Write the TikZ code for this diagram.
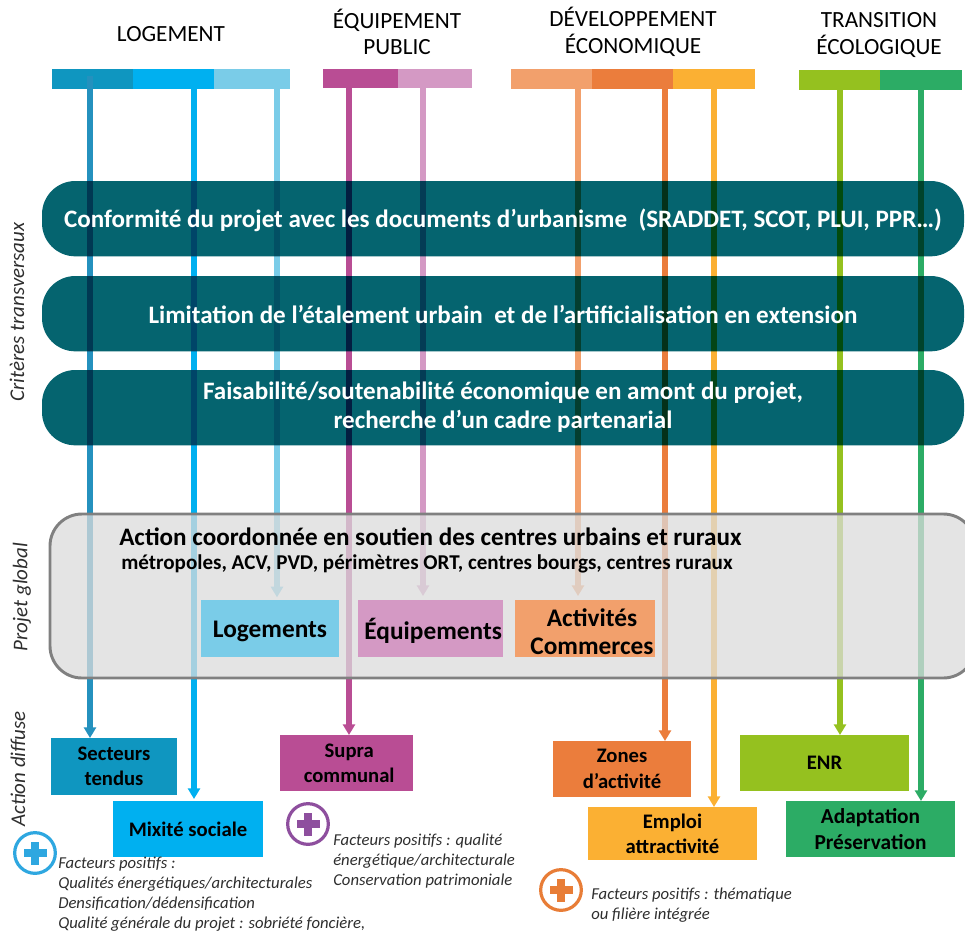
\documentclass[tikz,border=0pt]{standalone}
\usepackage{fontspec}
\setmainfont{Carlito}
\usetikzlibrary{arrows.meta}
\definecolor{cA}{HTML}{0F96C0}
\definecolor{cAl}{HTML}{2491BE}
\definecolor{cB}{HTML}{00B0F0}
\definecolor{cC}{HTML}{7ACCE8}
\definecolor{cD}{HTML}{B94D94}
\definecolor{cE}{HTML}{D499C4}
\definecolor{cF}{HTML}{F2A06C}
\definecolor{cG}{HTML}{EB7D3C}
\definecolor{cH}{HTML}{FBB033}
\definecolor{cI}{HTML}{95C11F}
\definecolor{cJ}{HTML}{2CAC65}
\definecolor{teal1}{HTML}{05646F}
\definecolor{txtgrey}{HTML}{2E2E2E}
\definecolor{ringB}{HTML}{2EA7E0}
\definecolor{ringP}{HTML}{8E4F9E}
\definecolor{ringO}{HTML}{E87D37}
\newcommand{\fs}[2]{\fontsize{#1}{#2}\selectfont}
\pgfdeclarelayer{top}
\pgfsetlayers{main,top}
\tikzset{
  x=0.75pt,y=-0.75pt,
  box/.style={draw=none,inner sep=0pt,outer sep=0pt,align=center,font=\fs{15.5}{19}\bfseries,text=black},
  bigbox/.style={font=\fs{19}{21.5}\bfseries},
  heading/.style={align=center,inner sep=0pt,font=\fs{17.4}{19.8},text=black},
  band/.style={rectangle,rounded corners=25pt,fill=teal1,blend mode=multiply,inner sep=0pt,outer sep=0pt,minimum width=691.5pt,minimum height=56.5pt,anchor=north west},
  bandtext/.style={align=center,inner sep=0pt,text=white,font=\fs{18.8}{21.8}\bfseries},
  flow/.style={line width=4.5pt,-{Triangle[length=8pt,width=9pt]}},
  side/.style={rotate=90,inner sep=0pt,text=txtgrey,font=\fs{15.7}{17}\itshape},
  note/.style={anchor=north west,align=left,inner sep=0pt,text=txtgrey,font=\fs{12.5}{14.9}\itshape},
  ring/.style={circle,line width=2.4pt,draw=#1,fill=white,minimum size=30.5pt,inner sep=0pt,outer sep=0pt},
}
\newcommand{\rectnode}[8][]{% style, name, color, x1, y1, x2, y2, text
  \node[box,#1,fill=#3,minimum width={(#6-#4)*0.75pt},minimum height={(#7-#5)*0.75pt}] (#2) at ({(#4+#6)/2},{(#5+#7)/2}) {#8};}
\newcommand{\plusicon}[4]{% name, color, x, y
  \node[ring=#2] (#1) at (#3,#4) {};
  \fill[#2] (#3-4,#4-11.5) rectangle (#3+4,#4+11.5);
  \fill[#2] (#3-11.5,#4-4) rectangle (#3+11.5,#4+4);}
\begin{document}
\begin{tikzpicture}
\useasboundingbox (0,0) rectangle (965,933);
% headings
\node[heading] (hL) at (171,34) {LOGEMENT};
\node[heading] (hE) at (397,32) {ÉQUIPEMENT\\PUBLIC};
\node[heading] (hD) at (633,32) {DÉVELOPPEMENT\\ÉCONOMIQUE};
\node[heading] (hT) at (879,35) {TRANSITION\\ÉCOLOGIQUE};
% colour bars
\rectnode{b1}{cA}{52}{69}{133}{89}{}
\rectnode{b2}{cB}{133}{69}{214}{89}{}
\rectnode{b3}{cC}{214}{69}{290}{89}{}
\rectnode{b4}{cD}{323}{69}{398}{88}{}
\rectnode{b5}{cE}{398}{69}{472}{88}{}
\rectnode{b6}{cF}{511}{69}{592}{89}{}
\rectnode{b7}{cG}{592}{69}{673}{89}{}
\rectnode{b8}{cH}{673}{69}{755}{89}{}
\rectnode{b9}{cI}{799}{70}{880}{90}{}
\rectnode{b10}{cJ}{880}{70}{962}{90}{}
% target boxes
\rectnode{sect}{cA}{51}{738}{177}{795}{Secteurs\\tendus}
\rectnode{mix}{cB}{113}{801}{263}{857}{Mixité sociale}
\rectnode{supra}{cD}{280}{735}{413}{791}{\hspace*{4pt}Supra\\\hspace*{4pt}communal}
\rectnode{zones}{cG}{553}{741}{691}{797}{Zones\\d’activité}
\rectnode{emploi}{cH}{588}{807}{757}{860}{Emploi\\attractivité}
\rectnode{enr}{cI}{740}{735}{909}{791}{ENR}
\rectnode[font=\fs{16}{20}\bfseries]{adapt}{cJ}{786}{801}{955}{857}{Adaptation\\Préservation}
\begin{pgfonlayer}{top}
\rectnode[bigbox]{logs}{cC}{201}{600}{339}{657}{\rule{0pt}{16pt}Logements}
\rectnode[bigbox]{equi}{cE}{358}{600}{503}{657}{\rule{0pt}{19pt}\hspace*{4pt}Équipements}
\rectnode[bigbox]{acti}{cF}{515}{600}{655}{657}{\rule{0pt}{18pt}\hspace*{10.5pt}Activités\\\hspace*{10.5pt}Commerces}
\end{pgfonlayer}
% arrow starts
\coordinate (s1) at (90,76);
\coordinate (s2) at (194,89);
\coordinate (s3) at (277,89);
\coordinate (s4) at (349,88);
\coordinate (s5) at (423,88);
\coordinate (s6) at (578,89);
\coordinate (s7) at (665,89);
\coordinate (s8) at (714,89);
\coordinate (s9) at (840,90);
\coordinate (s10) at (921,90);
% connectors
\draw[flow,cAl] (s1) -- (s1 |- sect.north);
\draw[flow,cB,shorten >=1.5pt] (s2) -- (s2 |- mix.north);
\draw[flow,cC,shorten >=2pt] (s3) -- (s3 |- logs.north);
\draw[flow,cD] (s4) -- (s4 |- supra.north);
\draw[flow,cE,shorten >=3pt] (s5) -- (s5 |- equi.north);
\draw[flow,cF,shorten >=3pt] (s6) -- (s6 |- acti.north);
\draw[flow,cG] (s7) -- (s7 |- zones.north);
\draw[flow,cH] (s8) -- (s8 |- emploi.north);
\draw[flow,cI] (s9) -- (s9 |- enr.north);
\draw[flow,cJ] (s10) -- (s10 |- adapt.north);
% transversal bands
\node[band] (t1) at (42,181) {};
\node[band] (t2) at (42,276) {};
\node[band] (t3) at (42,370) {};
\node[bandtext] (tt1) at (503,220) {Conformité du projet avec les documents d’urbanisme\ \ (SRADDET, SCOT, PLUI, PPR…)};
\node[bandtext] (tt2) at (503,314) {Limitation de l’étalement urbain\ \ et de l’artificialisation en extension};
\node[bandtext] (tt3) at (503,407) {Faisabilité/soutenabilité économique en amont du projet,\\recherche d’un cadre partenarial};
% global project panel
\node[rectangle,rounded corners=24pt,draw=black!50,line width=2.2pt,fill=black!14,fill opacity=.75,draw opacity=1,minimum width=694pt,minimum height=123pt,anchor=north west,inner sep=0pt,outer sep=0pt] (glob) at (50,514) {};
\node[inner sep=0pt,anchor=west,font=\fs{18.85}{22}\bfseries,text=black] (gt1) at (119,537) {Action coordonnée en soutien des centres urbains et ruraux};
\node[inner sep=0pt,anchor=west,font=\fs{15.8}{16}\bfseries,text=black] (gt2) at (121,564) {métropoles, ACV, PVD, périmètres ORT, centres bourgs, centres ruraux};
% side labels
\node[side] (l1) at (17,312) {Critères transversaux};
\node[side] (l2) at (22,597) {Projet global};
\node[side] (l3) at (18,769) {Action diffuse};
% plus icons and notes
\plusicon{p1}{ringB}{35}{853}
\plusicon{p2}{ringP}{308}{824}
\plusicon{p3}{ringO}{561}{890}
\node[note] (n1) at (58,857) {Facteurs positifs :\\Qualités énergétiques/architecturales\\Densification/dédensification\\Qualité générale du projet : sobriété foncière,};
\node[note] (n2) at (333,834) {Facteurs positifs : qualité\\énergétique/architecturale\\Conservation patrimoniale};
\node[note] (n3) at (591,888) {Facteurs positifs : thématique\\ou filière intégrée};
\end{tikzpicture}
\end{document}
